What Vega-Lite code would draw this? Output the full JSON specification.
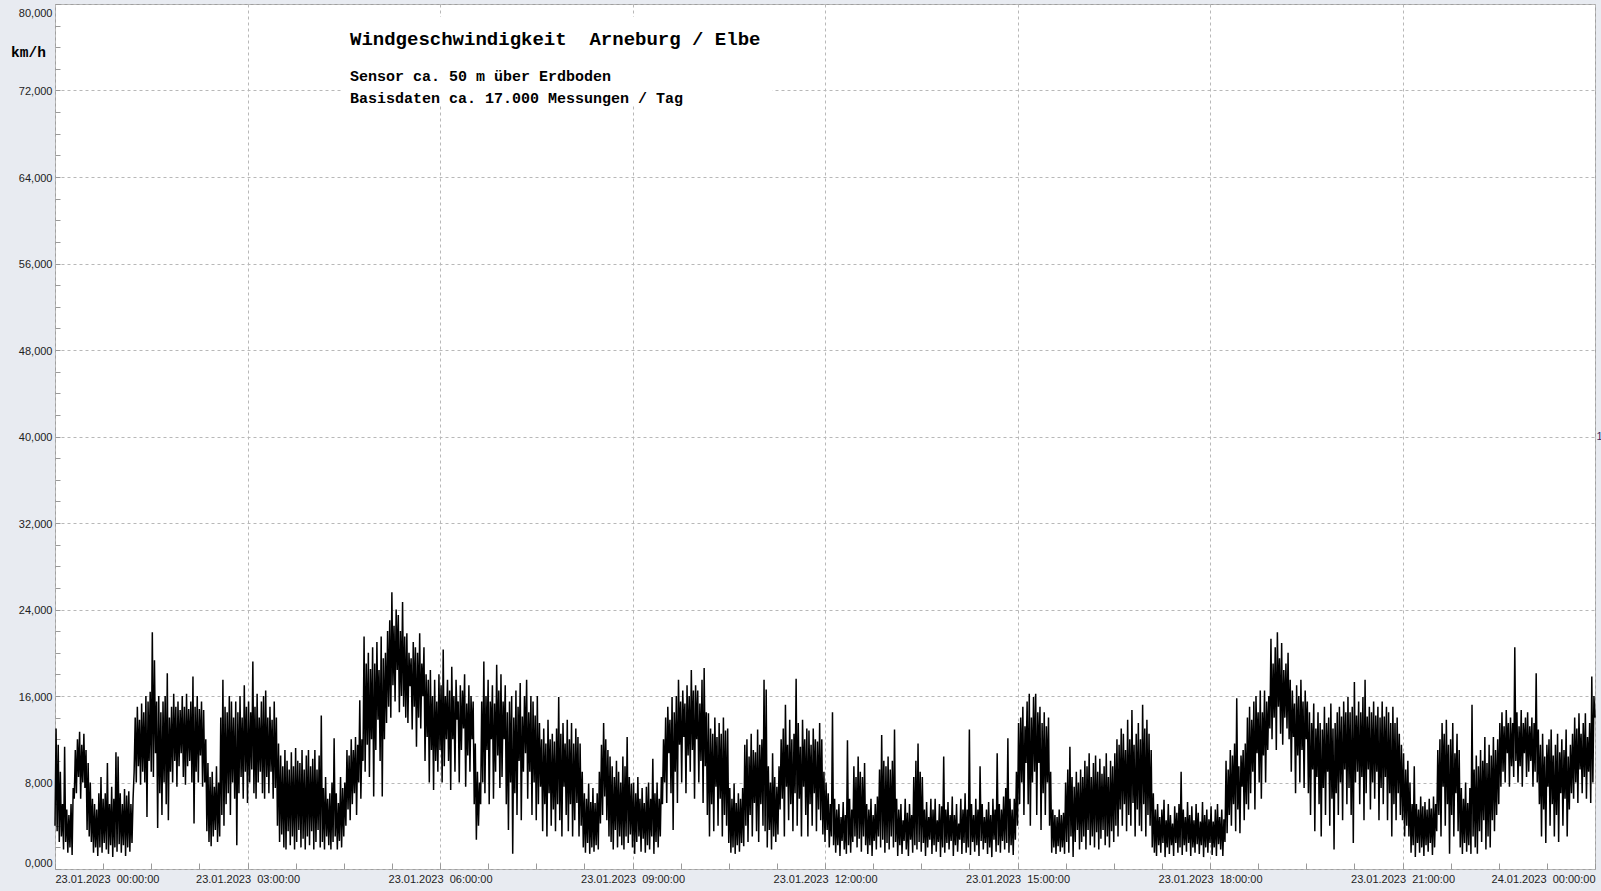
{
"$schema": "https://vega.github.io/schema/vega-lite/v6.json",
"width": 1540,
"height": 865,
"autosize": "none",
"padding": {"left": 55, "top": 4, "right": 6, "bottom": 22},
"background": "#e8ebf1",
"config": {"view": {"stroke": "#a0a0a0", "fill": "white"}},
"title": {
  "text": "Windgeschwindigkeit\u00a0 Arneburg / Elbe",
  "subtitle": ["Sensor ca. 50 m über Erdboden", "Basisdaten ca. 17.000 Messungen / Tag"],
  "anchor": "start", "frame": "group", "orient": "top", "offset": 0,
  "font": "Liberation Mono", "fontSize": 19, "fontWeight": "bold", "color": "#000",
  "subtitleFont": "Liberation Mono", "subtitleFontSize": 15, "subtitleFontWeight": "bold", "subtitleColor": "#000",
  "subtitlePadding": 19.5, "subtitleLineHeight": 22,
  "dx": 295, "dy": 102
},
"datasets": {
"wind": [
{"m":0,"v":4},{"m":1,"v":13},{"m":2,"v":3.5},{"m":3,"v":11.5},{"m":4,"v":2.5},{"m":5,"v":9},{"m":6,"v":3},{"m":7,"v":6},{"m":8,"v":1.8},{"m":9,"v":11.3},
{"m":10,"v":2.5},{"m":11,"v":5.5},{"m":12,"v":1.5},{"m":13,"v":5},{"m":14,"v":2},{"m":15,"v":6},{"m":16,"v":1.3},{"m":17,"v":7.5},{"m":18,"v":6.5},{"m":19,"v":11},
{"m":20,"v":7},{"m":21,"v":12},{"m":22,"v":8.5},{"m":23,"v":12.7},{"m":24,"v":6.5},{"m":25,"v":11.5},{"m":26,"v":8},{"m":27,"v":12.5},{"m":28,"v":7.5},{"m":29,"v":11},
{"m":30,"v":3.6},{"m":31,"v":9.8},{"m":32,"v":3},{"m":33,"v":8},{"m":34,"v":2.5},{"m":35,"v":6.5},{"m":36,"v":1.5},{"m":37,"v":6},{"m":38,"v":2},{"m":39,"v":5.5},
{"m":40,"v":1.2},{"m":41,"v":7},{"m":42,"v":2},{"m":43,"v":8.5},{"m":44,"v":1.5},{"m":45,"v":6.5},{"m":46,"v":2.4},{"m":47,"v":7},{"m":48,"v":1.8},{"m":49,"v":9.8},
{"m":50,"v":1.4},{"m":51,"v":6},{"m":52,"v":2.2},{"m":53,"v":7.6},{"m":54,"v":1.1},{"m":55,"v":6.5},{"m":56,"v":2},{"m":57,"v":10.8},{"m":58,"v":1.6},{"m":59,"v":10.4},
{"m":60,"v":2.3},{"m":61,"v":7},{"m":62,"v":1.5},{"m":63,"v":6},{"m":64,"v":2.2},{"m":65,"v":7.4},{"m":66,"v":1.2},{"m":67,"v":6.8},{"m":68,"v":2},{"m":69,"v":7.2},
{"m":70,"v":1.6},{"m":71,"v":6},{"m":72,"v":2.4},{"m":73,"v":6.5},{"m":74,"v":9},{"m":75,"v":14},{"m":76,"v":8},{"m":77,"v":15},{"m":78,"v":9.5},{"m":79,"v":13.8},
{"m":80,"v":7.8},{"m":81,"v":15.3},{"m":82,"v":9},{"m":83,"v":14.5},{"m":84,"v":8},{"m":85,"v":16},{"m":86,"v":4.8},{"m":87,"v":15.5},{"m":88,"v":10},{"m":89,"v":16.4},
{"m":90,"v":9},{"m":91,"v":21.9},{"m":92,"v":8.5},{"m":93,"v":19.3},{"m":94,"v":10.7},{"m":95,"v":15.5},{"m":96,"v":3.8},{"m":97,"v":16},{"m":98,"v":7},{"m":99,"v":14.5},
{"m":100,"v":5},{"m":101,"v":15.5},{"m":102,"v":8},{"m":103,"v":16},{"m":104,"v":6},{"m":105,"v":18.1},{"m":106,"v":4.5},{"m":107,"v":14},{"m":108,"v":9},{"m":109,"v":15},
{"m":110,"v":8},{"m":111,"v":16.2},{"m":112,"v":10},{"m":113,"v":15},{"m":114,"v":7.6},{"m":115,"v":15.5},{"m":116,"v":9.5},{"m":117,"v":14.7},{"m":118,"v":10.7},{"m":119,"v":16},
{"m":120,"v":8.5},{"m":121,"v":15},{"m":122,"v":7.8},{"m":123,"v":16.2},{"m":124,"v":9.5},{"m":125,"v":14.8},{"m":126,"v":10},{"m":127,"v":15.5},{"m":128,"v":8},{"m":129,"v":17.8},
{"m":130,"v":4.2},{"m":131,"v":15},{"m":132,"v":9},{"m":133,"v":16},{"m":134,"v":8},{"m":135,"v":14.8},{"m":136,"v":10.5},{"m":137,"v":15.5},{"m":138,"v":7.6},{"m":139,"v":14.7},
{"m":140,"v":8},{"m":141,"v":12},{"m":142,"v":3.5},{"m":143,"v":9.8},{"m":144,"v":2.5},{"m":145,"v":8.5},{"m":146,"v":2.1},{"m":147,"v":9},{"m":148,"v":3},{"m":149,"v":7.6},
{"m":150,"v":3.6},{"m":151,"v":9.5},{"m":152,"v":2.5},{"m":153,"v":8},{"m":154,"v":3},{"m":155,"v":14},{"m":156,"v":5},{"m":157,"v":17.5},{"m":158,"v":4},{"m":159,"v":15},
{"m":160,"v":6},{"m":161,"v":14.5},{"m":162,"v":7},{"m":163,"v":16},{"m":164,"v":5},{"m":165,"v":15.5},{"m":166,"v":8},{"m":167,"v":14},{"m":168,"v":6.5},{"m":169,"v":15.5},
{"m":170,"v":2.2},{"m":171,"v":14.5},{"m":172,"v":7},{"m":173,"v":16},{"m":174,"v":8.5},{"m":175,"v":14},{"m":176,"v":6.5},{"m":177,"v":17},{"m":178,"v":9},{"m":179,"v":15},
{"m":180,"v":6.1},{"m":181,"v":15.5},{"m":182,"v":8},{"m":183,"v":14.5},{"m":184,"v":9.2},{"m":185,"v":19.2},{"m":186,"v":7},{"m":187,"v":15},{"m":188,"v":6.5},{"m":189,"v":16.2},
{"m":190,"v":8},{"m":191,"v":14},{"m":192,"v":9},{"m":193,"v":15.5},{"m":194,"v":7},{"m":195,"v":16},{"m":196,"v":6.5},{"m":197,"v":16.5},{"m":198,"v":8.5},{"m":199,"v":14},
{"m":200,"v":7},{"m":201,"v":15},{"m":202,"v":9},{"m":203,"v":13.8},{"m":204,"v":6.5},{"m":205,"v":15.5},{"m":206,"v":7.5},{"m":207,"v":14},{"m":208,"v":4},{"m":209,"v":11.6},
{"m":210,"v":2.5},{"m":211,"v":10.5},{"m":212,"v":3.2},{"m":213,"v":9.5},{"m":214,"v":2},{"m":215,"v":11},{"m":216,"v":1.8},{"m":217,"v":10},{"m":218,"v":3.5},{"m":219,"v":9.2},
{"m":220,"v":2.2},{"m":221,"v":10.8},{"m":222,"v":3},{"m":223,"v":9.5},{"m":224,"v":1.8},{"m":225,"v":11.2},{"m":226,"v":2.5},{"m":227,"v":10},{"m":228,"v":3.6},{"m":229,"v":9.8},
{"m":230,"v":2},{"m":231,"v":11},{"m":232,"v":2.8},{"m":233,"v":9.2},{"m":234,"v":1.8},{"m":235,"v":10.5},{"m":236,"v":3},{"m":237,"v":11},{"m":238,"v":2.2},{"m":239,"v":9.5},
{"m":240,"v":3.5},{"m":241,"v":10.2},{"m":242,"v":1.8},{"m":243,"v":11},{"m":244,"v":2.5},{"m":245,"v":9.2},{"m":246,"v":3.6},{"m":247,"v":10.5},{"m":248,"v":2},{"m":249,"v":14.2},
{"m":250,"v":2.5},{"m":251,"v":7.5},{"m":252,"v":1.8},{"m":253,"v":8.5},{"m":254,"v":3},{"m":255,"v":6.5},{"m":256,"v":2.2},{"m":257,"v":7},{"m":258,"v":1.8},{"m":259,"v":8},
{"m":260,"v":2.5},{"m":261,"v":12.1},{"m":262,"v":3},{"m":263,"v":7},{"m":264,"v":1.8},{"m":265,"v":6.1},{"m":266,"v":2.6},{"m":267,"v":8.5},{"m":268,"v":2},{"m":269,"v":7.5},
{"m":270,"v":3},{"m":271,"v":8},{"m":272,"v":4},{"m":273,"v":11},{"m":274,"v":5.5},{"m":275,"v":10.5},{"m":276,"v":4.5},{"m":277,"v":12},{"m":278,"v":6},{"m":279,"v":11},
{"m":280,"v":7},{"m":281,"v":12.2},{"m":282,"v":5},{"m":283,"v":11.5},{"m":284,"v":8},{"m":285,"v":15.6},{"m":286,"v":6.5},{"m":287,"v":12},{"m":288,"v":10},{"m":289,"v":21.5},
{"m":290,"v":9},{"m":291,"v":19},{"m":292,"v":11.5},{"m":293,"v":20},{"m":294,"v":8.5},{"m":295,"v":18.5},{"m":296,"v":12},{"m":297,"v":20.5},{"m":298,"v":6.7},{"m":299,"v":19},
{"m":300,"v":11},{"m":301,"v":21},{"m":302,"v":13.8},{"m":303,"v":18.4},{"m":304,"v":10},{"m":305,"v":21.5},{"m":306,"v":6.7},{"m":307,"v":19.5},{"m":308,"v":12},{"m":309,"v":20},
{"m":310,"v":13.5},{"m":311,"v":22},{"m":312,"v":15},{"m":313,"v":23},{"m":314,"v":14},{"m":315,"v":25.6},{"m":316,"v":17},{"m":317,"v":22.5},{"m":318,"v":15.5},{"m":319,"v":24},
{"m":320,"v":18.4},{"m":321,"v":23.5},{"m":322,"v":14.5},{"m":323,"v":22},{"m":324,"v":16},{"m":325,"v":24.7},{"m":326,"v":15},{"m":327,"v":21.5},{"m":328,"v":14},{"m":329,"v":21.8},
{"m":330,"v":13.5},{"m":331,"v":20},{"m":332,"v":16.9},{"m":333,"v":19.5},{"m":334,"v":12.9},{"m":335,"v":21},{"m":336,"v":15},{"m":337,"v":20.5},{"m":338,"v":11.3},{"m":339,"v":20},
{"m":340,"v":14},{"m":341,"v":21.8},{"m":342,"v":13},{"m":343,"v":19},{"m":344,"v":16},{"m":345,"v":20.5},{"m":346,"v":10},{"m":347,"v":18},{"m":348,"v":12.2},{"m":349,"v":17.5},
{"m":350,"v":8},{"m":351,"v":18.4},{"m":352,"v":11},{"m":353,"v":16},{"m":354,"v":7.3},{"m":355,"v":17.5},{"m":356,"v":10},{"m":357,"v":15.5},{"m":358,"v":9},{"m":359,"v":18},
{"m":360,"v":11},{"m":361,"v":17},{"m":362,"v":8},{"m":363,"v":20.3},{"m":364,"v":9.5},{"m":365,"v":16},{"m":366,"v":12},{"m":367,"v":17.5},{"m":368,"v":10},{"m":369,"v":16.5},
{"m":370,"v":7.3},{"m":371,"v":18.7},{"m":372,"v":12},{"m":373,"v":16},{"m":374,"v":9},{"m":375,"v":17.5},{"m":376,"v":13.8},{"m":377,"v":15.5},{"m":378,"v":8},{"m":379,"v":17},
{"m":380,"v":11},{"m":381,"v":16.5},{"m":382,"v":13},{"m":383,"v":18},{"m":384,"v":7.6},{"m":385,"v":15.3},{"m":386,"v":10.5},{"m":387,"v":17},{"m":388,"v":9},{"m":389,"v":16},
{"m":390,"v":12},{"m":391,"v":15.5},{"m":392,"v":6},{"m":393,"v":11.6},{"m":394,"v":2.7},{"m":395,"v":9},{"m":396,"v":4},{"m":397,"v":8},{"m":398,"v":6},{"m":399,"v":15.5},
{"m":400,"v":8},{"m":401,"v":19.2},{"m":402,"v":7},{"m":403,"v":16},{"m":404,"v":11},{"m":405,"v":17.5},{"m":406,"v":6},{"m":407,"v":15.5},{"m":408,"v":12},{"m":409,"v":17},
{"m":410,"v":6.5},{"m":411,"v":15.3},{"m":412,"v":9},{"m":413,"v":18.9},{"m":414,"v":10.5},{"m":415,"v":16.5},{"m":416,"v":7.5},{"m":417,"v":18},{"m":418,"v":8.5},{"m":419,"v":15.5},
{"m":420,"v":12},{"m":421,"v":17},{"m":422,"v":6},{"m":423,"v":14.5},{"m":424,"v":3.6},{"m":425,"v":15.5},{"m":426,"v":8},{"m":427,"v":16},{"m":428,"v":1.4},{"m":429,"v":14},
{"m":430,"v":7},{"m":431,"v":16.5},{"m":432,"v":5},{"m":433,"v":15},{"m":434,"v":10},{"m":435,"v":17.2},{"m":436,"v":4.5},{"m":437,"v":14.1},{"m":438,"v":9},{"m":439,"v":16},
{"m":440,"v":10.7},{"m":441,"v":17.5},{"m":442,"v":6.5},{"m":443,"v":14.5},{"m":444,"v":9},{"m":445,"v":16},{"m":446,"v":5},{"m":447,"v":15.5},{"m":448,"v":8},{"m":449,"v":14.2},
{"m":450,"v":4.5},{"m":451,"v":16},{"m":452,"v":6},{"m":453,"v":13.5},{"m":454,"v":7.6},{"m":455,"v":12},{"m":456,"v":3.5},{"m":457,"v":13},{"m":458,"v":6},{"m":459,"v":11.6},
{"m":460,"v":3},{"m":461,"v":13.8},{"m":462,"v":7},{"m":463,"v":12},{"m":464,"v":4},{"m":465,"v":12.5},{"m":466,"v":5.5},{"m":467,"v":11.8},{"m":468,"v":3.5},{"m":469,"v":13},
{"m":470,"v":6},{"m":471,"v":15.9},{"m":472,"v":4.5},{"m":473,"v":12.5},{"m":474,"v":3},{"m":475,"v":13.5},{"m":476,"v":7.6},{"m":477,"v":11.6},{"m":478,"v":5},{"m":479,"v":13.8},
{"m":480,"v":3.5},{"m":481,"v":12},{"m":482,"v":6},{"m":483,"v":13.5},{"m":484,"v":3},{"m":485,"v":11.6},{"m":486,"v":4.5},{"m":487,"v":13},{"m":488,"v":6.1},{"m":489,"v":12.2},
{"m":490,"v":3},{"m":491,"v":11.6},{"m":492,"v":4},{"m":493,"v":9},{"m":494,"v":2},{"m":495,"v":7},{"m":496,"v":1.5},{"m":497,"v":6.5},{"m":498,"v":2.4},{"m":499,"v":7.9},
{"m":500,"v":1.4},{"m":501,"v":6.2},{"m":502,"v":2},{"m":503,"v":7.5},{"m":504,"v":1.6},{"m":505,"v":6.1},{"m":506,"v":2.2},{"m":507,"v":7},{"m":508,"v":1.8},{"m":509,"v":9},
{"m":510,"v":4.2},{"m":511,"v":11.5},{"m":512,"v":5},{"m":513,"v":13.5},{"m":514,"v":6.7},{"m":515,"v":12},{"m":516,"v":4.5},{"m":517,"v":11},{"m":518,"v":3},{"m":519,"v":10.4},
{"m":520,"v":2.5},{"m":521,"v":9.5},{"m":522,"v":1.8},{"m":523,"v":8.5},{"m":524,"v":3.6},{"m":525,"v":10},{"m":526,"v":2},{"m":527,"v":9},{"m":528,"v":3},{"m":529,"v":8},
{"m":530,"v":2.2},{"m":531,"v":10.4},{"m":532,"v":1.8},{"m":533,"v":9.5},{"m":534,"v":3},{"m":535,"v":12.2},{"m":536,"v":2.4},{"m":537,"v":8.5},{"m":538,"v":3.2},{"m":539,"v":7.9},
{"m":540,"v":2},{"m":541,"v":8},{"m":542,"v":1.4},{"m":543,"v":7},{"m":544,"v":2.5},{"m":545,"v":8.5},{"m":546,"v":3},{"m":547,"v":6.5},{"m":548,"v":1.6},{"m":549,"v":7.5},
{"m":550,"v":2.8},{"m":551,"v":6.1},{"m":552,"v":1.5},{"m":553,"v":7.6},{"m":554,"v":2.2},{"m":555,"v":8},{"m":556,"v":1.8},{"m":557,"v":6.5},{"m":558,"v":3},{"m":559,"v":10.2},
{"m":560,"v":1.4},{"m":561,"v":7},{"m":562,"v":2.5},{"m":563,"v":8},{"m":564,"v":2},{"m":565,"v":6.5},{"m":566,"v":3},{"m":567,"v":8.5},{"m":568,"v":6},{"m":569,"v":12},
{"m":570,"v":8},{"m":571,"v":14},{"m":572,"v":6.1},{"m":573,"v":15},{"m":574,"v":10.7},{"m":575,"v":13.8},{"m":576,"v":7},{"m":577,"v":15.9},{"m":578,"v":3.6},{"m":579,"v":14.5},
{"m":580,"v":9},{"m":581,"v":16},{"m":582,"v":6.1},{"m":583,"v":17.5},{"m":584,"v":11.5},{"m":585,"v":15.5},{"m":586,"v":8},{"m":587,"v":16.5},{"m":588,"v":12.2},{"m":589,"v":15.3},
{"m":590,"v":7},{"m":591,"v":17},{"m":592,"v":10.5},{"m":593,"v":16},{"m":594,"v":9},{"m":595,"v":18.4},{"m":596,"v":11},{"m":597,"v":16.5},{"m":598,"v":6.5},{"m":599,"v":17},
{"m":600,"v":12},{"m":601,"v":16.5},{"m":602,"v":8},{"m":603,"v":15.3},{"m":604,"v":10},{"m":605,"v":17.5},{"m":606,"v":6.1},{"m":607,"v":18.6},{"m":608,"v":9.5},{"m":609,"v":14.5},
{"m":610,"v":5},{"m":611,"v":14.4},{"m":612,"v":3},{"m":613,"v":13},{"m":614,"v":6},{"m":615,"v":12.5},{"m":616,"v":3.5},{"m":617,"v":14},{"m":618,"v":7.6},{"m":619,"v":12.2},
{"m":620,"v":4},{"m":621,"v":13.5},{"m":622,"v":6.5},{"m":623,"v":12.5},{"m":624,"v":3},{"m":625,"v":14},{"m":626,"v":5},{"m":627,"v":12.8},{"m":628,"v":4},{"m":629,"v":13},
{"m":630,"v":2.4},{"m":631,"v":7.5},{"m":632,"v":1.5},{"m":633,"v":6.5},{"m":634,"v":2},{"m":635,"v":7.9},{"m":636,"v":1.4},{"m":637,"v":6.1},{"m":638,"v":2.2},{"m":639,"v":7},
{"m":640,"v":1.6},{"m":641,"v":6.5},{"m":642,"v":2.4},{"m":643,"v":7.5},{"m":644,"v":2.1},{"m":645,"v":11.5},{"m":646,"v":4},{"m":647,"v":12},{"m":648,"v":2.5},{"m":649,"v":10.4},
{"m":650,"v":5},{"m":651,"v":12.5},{"m":652,"v":3},{"m":653,"v":11},{"m":654,"v":6.1},{"m":655,"v":10.8},{"m":656,"v":3.5},{"m":657,"v":12.9},{"m":658,"v":2.5},{"m":659,"v":11.5},
{"m":660,"v":6},{"m":661,"v":12},{"m":662,"v":4},{"m":663,"v":17.5},{"m":664,"v":3.5},{"m":665,"v":16.6},{"m":666,"v":2},{"m":667,"v":9.5},{"m":668,"v":3.6},{"m":669,"v":8},
{"m":670,"v":1.8},{"m":671,"v":10.7},{"m":672,"v":3},{"m":673,"v":8.5},{"m":674,"v":2.5},{"m":675,"v":7.6},{"m":676,"v":3.2},{"m":677,"v":9.5},{"m":678,"v":5.5},{"m":679,"v":12},
{"m":680,"v":6.5},{"m":681,"v":13},{"m":682,"v":3},{"m":683,"v":15.2},{"m":684,"v":7.6},{"m":685,"v":11.5},{"m":686,"v":4.5},{"m":687,"v":13.8},{"m":688,"v":6},{"m":689,"v":12},
{"m":690,"v":3.5},{"m":691,"v":12.5},{"m":692,"v":7},{"m":693,"v":17.6},{"m":694,"v":4},{"m":695,"v":13.5},{"m":696,"v":6.5},{"m":697,"v":11.3},{"m":698,"v":3},{"m":699,"v":13.8},
{"m":700,"v":7.6},{"m":701,"v":12},{"m":702,"v":5},{"m":703,"v":13},{"m":704,"v":3},{"m":705,"v":12.8},{"m":706,"v":6},{"m":707,"v":11.5},{"m":708,"v":4},{"m":709,"v":13},
{"m":710,"v":7},{"m":711,"v":12},{"m":712,"v":3.5},{"m":713,"v":11.8},{"m":714,"v":5.5},{"m":715,"v":13.5},{"m":716,"v":4.5},{"m":717,"v":12},{"m":718,"v":3.2},{"m":719,"v":9},
{"m":720,"v":2.5},{"m":721,"v":8},{"m":722,"v":3.6},{"m":723,"v":7},{"m":724,"v":2},{"m":725,"v":6},{"m":726,"v":3},{"m":727,"v":14.5},{"m":728,"v":2.2},{"m":729,"v":6.5},
{"m":730,"v":1.5},{"m":731,"v":5.5},{"m":732,"v":2.2},{"m":733,"v":6},{"m":734,"v":1.2},{"m":735,"v":4.8},{"m":736,"v":2.6},{"m":737,"v":6.2},{"m":738,"v":1.8},{"m":739,"v":5},
{"m":740,"v":1.4},{"m":741,"v":11.9},{"m":742,"v":2.2},{"m":743,"v":6.5},{"m":744,"v":1.5},{"m":745,"v":5.5},{"m":746,"v":2.5},{"m":747,"v":9.5},{"m":748,"v":3},{"m":749,"v":8.5},
{"m":750,"v":2},{"m":751,"v":10.4},{"m":752,"v":2.8},{"m":753,"v":9},{"m":754,"v":1.6},{"m":755,"v":8.5},{"m":756,"v":3},{"m":757,"v":9.8},{"m":758,"v":2.2},{"m":759,"v":6},
{"m":760,"v":1.4},{"m":761,"v":5.5},{"m":762,"v":2.2},{"m":763,"v":6.5},{"m":764,"v":1.2},{"m":765,"v":5},{"m":766,"v":2.6},{"m":767,"v":6},{"m":768,"v":1.8},{"m":769,"v":6.7},
{"m":770,"v":3},{"m":771,"v":9.2},{"m":772,"v":2},{"m":773,"v":12.4},{"m":774,"v":2.7},{"m":775,"v":10},{"m":776,"v":1.5},{"m":777,"v":9.5},{"m":778,"v":2.4},{"m":779,"v":10.4},
{"m":780,"v":1.8},{"m":781,"v":9.2},{"m":782,"v":3},{"m":783,"v":10},{"m":784,"v":2},{"m":785,"v":12.9},{"m":786,"v":2.5},{"m":787,"v":6.5},{"m":788,"v":1.2},{"m":789,"v":5.5},
{"m":790,"v":2.2},{"m":791,"v":6},{"m":792,"v":1.4},{"m":793,"v":4.5},{"m":794,"v":2.6},{"m":795,"v":6.5},{"m":796,"v":1.8},{"m":797,"v":5.2},{"m":798,"v":1.2},{"m":799,"v":6},
{"m":800,"v":2.7},{"m":801,"v":5},{"m":802,"v":1.5},{"m":803,"v":8.5},{"m":804,"v":2.2},{"m":805,"v":10},{"m":806,"v":1.8},{"m":807,"v":11.6},{"m":808,"v":2.5},{"m":809,"v":9},
{"m":810,"v":1.6},{"m":811,"v":8.5},{"m":812,"v":2.4},{"m":813,"v":5.5},{"m":814,"v":1.2},{"m":815,"v":6.2},{"m":816,"v":2},{"m":817,"v":4.8},{"m":818,"v":2.7},{"m":819,"v":6.5},
{"m":820,"v":1.4},{"m":821,"v":5.5},{"m":822,"v":2.2},{"m":823,"v":6.5},{"m":824,"v":1.6},{"m":825,"v":4.5},{"m":826,"v":2.5},{"m":827,"v":6},{"m":828,"v":1.1},{"m":829,"v":5.8},
{"m":830,"v":2},{"m":831,"v":10.4},{"m":832,"v":1.5},{"m":833,"v":5.5},{"m":834,"v":2.4},{"m":835,"v":6.2},{"m":836,"v":1.8},{"m":837,"v":5},{"m":838,"v":2.6},{"m":839,"v":6.7},
{"m":840,"v":1.2},{"m":841,"v":5},{"m":842,"v":2.2},{"m":843,"v":6},{"m":844,"v":1.6},{"m":845,"v":4.2},{"m":846,"v":2.7},{"m":847,"v":6.5},{"m":848,"v":1.4},{"m":849,"v":5.5},
{"m":850,"v":2.4},{"m":851,"v":7},{"m":852,"v":1.5},{"m":853,"v":5.5},{"m":854,"v":2},{"m":855,"v":12.9},{"m":856,"v":1.3},{"m":857,"v":6},{"m":858,"v":2.5},{"m":859,"v":5},
{"m":860,"v":1.6},{"m":861,"v":6.5},{"m":862,"v":2.2},{"m":863,"v":5.5},{"m":864,"v":1.2},{"m":865,"v":9.5},{"m":866,"v":2.6},{"m":867,"v":6},{"m":868,"v":1.8},{"m":869,"v":4.8},
{"m":870,"v":2.4},{"m":871,"v":5.5},{"m":872,"v":1.4},{"m":873,"v":6.2},{"m":874,"v":2},{"m":875,"v":5},{"m":876,"v":1.1},{"m":877,"v":6.5},{"m":878,"v":2.7},{"m":879,"v":5.5},
{"m":880,"v":1.6},{"m":881,"v":10.7},{"m":882,"v":2.2},{"m":883,"v":6},{"m":884,"v":1.5},{"m":885,"v":5.5},{"m":886,"v":2.6},{"m":887,"v":6.7},{"m":888,"v":1.8},{"m":889,"v":7.5},
{"m":890,"v":2.4},{"m":891,"v":12.1},{"m":892,"v":1.5},{"m":893,"v":6.5},{"m":894,"v":2.2},{"m":895,"v":5.5},{"m":896,"v":1.3},{"m":897,"v":6.5},{"m":898,"v":2.7},{"m":899,"v":9},
{"m":900,"v":4},{"m":901,"v":13.5},{"m":902,"v":6},{"m":903,"v":14},{"m":904,"v":8},{"m":905,"v":15},{"m":906,"v":5},{"m":907,"v":13.2},{"m":908,"v":9.8},{"m":909,"v":15.5},
{"m":910,"v":6},{"m":911,"v":16.2},{"m":912,"v":4},{"m":913,"v":14},{"m":914,"v":8},{"m":915,"v":15.9},{"m":916,"v":9},{"m":917,"v":16.2},{"m":918,"v":5},{"m":919,"v":14.5},
{"m":920,"v":9.8},{"m":921,"v":15},{"m":922,"v":3.6},{"m":923,"v":13.5},{"m":924,"v":7},{"m":925,"v":14.5},{"m":926,"v":5},{"m":927,"v":13.2},{"m":928,"v":8},{"m":929,"v":14},
{"m":930,"v":4},{"m":931,"v":9},{"m":932,"v":1.5},{"m":933,"v":5.5},{"m":934,"v":2},{"m":935,"v":5},{"m":936,"v":1.4},{"m":937,"v":4.8},{"m":938,"v":2.1},{"m":939,"v":5.5},
{"m":940,"v":1.6},{"m":941,"v":5},{"m":942,"v":2},{"m":943,"v":5.2},{"m":944,"v":1.4},{"m":945,"v":8},{"m":946,"v":2.5},{"m":947,"v":9.2},{"m":948,"v":1.5},{"m":949,"v":11.3},
{"m":950,"v":3},{"m":951,"v":8.5},{"m":952,"v":1.1},{"m":953,"v":7.6},{"m":954,"v":2.5},{"m":955,"v":9},{"m":956,"v":3.6},{"m":957,"v":8},{"m":958,"v":1.8},{"m":959,"v":9.2},
{"m":960,"v":2.5},{"m":961,"v":8.5},{"m":962,"v":3},{"m":963,"v":10},{"m":964,"v":1.8},{"m":965,"v":9.5},{"m":966,"v":3.6},{"m":967,"v":10.7},{"m":968,"v":2.2},{"m":969,"v":8.5},
{"m":970,"v":3},{"m":971,"v":9.8},{"m":972,"v":2},{"m":973,"v":10.5},{"m":974,"v":3.4},{"m":975,"v":9},{"m":976,"v":1.8},{"m":977,"v":10.2},{"m":978,"v":2.8},{"m":979,"v":8.8},
{"m":980,"v":3.6},{"m":981,"v":9.5},{"m":982,"v":2.2},{"m":983,"v":10.7},{"m":984,"v":3},{"m":985,"v":8.5},{"m":986,"v":2},{"m":987,"v":10},{"m":988,"v":3.5},{"m":989,"v":9.5},
{"m":990,"v":2.5},{"m":991,"v":10.7},{"m":992,"v":4},{"m":993,"v":12},{"m":994,"v":3},{"m":995,"v":11.5},{"m":996,"v":5.5},{"m":997,"v":13},{"m":998,"v":4},{"m":999,"v":12.5},
{"m":1000,"v":6},{"m":1001,"v":11},{"m":1002,"v":3.5},{"m":1003,"v":13.8},{"m":1004,"v":5},{"m":1005,"v":12},{"m":1006,"v":4},{"m":1007,"v":14.7},{"m":1008,"v":6.1},{"m":1009,"v":11.5},
{"m":1010,"v":3},{"m":1011,"v":12.5},{"m":1012,"v":5.5},{"m":1013,"v":13.5},{"m":1014,"v":4},{"m":1015,"v":12},{"m":1016,"v":3.5},{"m":1017,"v":15.2},{"m":1018,"v":6},{"m":1019,"v":13},
{"m":1020,"v":3},{"m":1021,"v":13.8},{"m":1022,"v":5},{"m":1023,"v":12.5},{"m":1024,"v":4},{"m":1025,"v":11},{"m":1026,"v":2},{"m":1027,"v":7},{"m":1028,"v":1.5},{"m":1029,"v":5.5},
{"m":1030,"v":1.2},{"m":1031,"v":6},{"m":1032,"v":2.2},{"m":1033,"v":4.8},{"m":1034,"v":1.5},{"m":1035,"v":5.5},{"m":1036,"v":2.4},{"m":1037,"v":6.4},{"m":1038,"v":1.1},{"m":1039,"v":4.5},
{"m":1040,"v":2},{"m":1041,"v":6},{"m":1042,"v":1.4},{"m":1043,"v":5},{"m":1044,"v":2.2},{"m":1045,"v":4.2},{"m":1046,"v":1.2},{"m":1047,"v":5.8},{"m":1048,"v":2.4},{"m":1049,"v":5.2},
{"m":1050,"v":1.5},{"m":1051,"v":6},{"m":1052,"v":2},{"m":1053,"v":9},{"m":1054,"v":1.3},{"m":1055,"v":5.5},{"m":1056,"v":2.2},{"m":1057,"v":4.8},{"m":1058,"v":1.6},{"m":1059,"v":6.2},
{"m":1060,"v":2.4},{"m":1061,"v":5},{"m":1062,"v":1.2},{"m":1063,"v":5.8},{"m":1064,"v":2},{"m":1065,"v":4.5},{"m":1066,"v":1.5},{"m":1067,"v":6},{"m":1068,"v":2.3},{"m":1069,"v":5.2},
{"m":1070,"v":1.4},{"m":1071,"v":4.4},{"m":1072,"v":2.2},{"m":1073,"v":6.2},{"m":1074,"v":1.1},{"m":1075,"v":5},{"m":1076,"v":2},{"m":1077,"v":5.5},{"m":1078,"v":1.5},{"m":1079,"v":4.6},
{"m":1080,"v":2.4},{"m":1081,"v":5.8},{"m":1082,"v":1.3},{"m":1083,"v":4.4},{"m":1084,"v":2},{"m":1085,"v":5.5},{"m":1086,"v":1.2},{"m":1087,"v":6},{"m":1088,"v":2.3},{"m":1089,"v":4.8},
{"m":1090,"v":1.8},{"m":1091,"v":5.5},{"m":1092,"v":1.2},{"m":1093,"v":4.6},{"m":1094,"v":2.5},{"m":1095,"v":10},{"m":1096,"v":3.3},{"m":1097,"v":9.2},{"m":1098,"v":5},{"m":1099,"v":11},
{"m":1100,"v":4},{"m":1101,"v":10.5},{"m":1102,"v":6},{"m":1103,"v":11.6},{"m":1104,"v":3.5},{"m":1105,"v":15.8},{"m":1106,"v":5.5},{"m":1107,"v":9.5},{"m":1108,"v":3.3},{"m":1109,"v":10.5},
{"m":1110,"v":7.6},{"m":1111,"v":11},{"m":1112,"v":4.5},{"m":1113,"v":11.6},{"m":1114,"v":6},{"m":1115,"v":14},{"m":1116,"v":5.5},{"m":1117,"v":15},{"m":1118,"v":7},{"m":1119,"v":13.8},
{"m":1120,"v":9},{"m":1121,"v":15.5},{"m":1122,"v":5.5},{"m":1123,"v":16},{"m":1124,"v":10.7},{"m":1125,"v":14.5},{"m":1126,"v":8},{"m":1127,"v":16.5},{"m":1128,"v":6.5},{"m":1129,"v":14.5},
{"m":1130,"v":10.5},{"m":1131,"v":16.5},{"m":1132,"v":8},{"m":1133,"v":15.5},{"m":1134,"v":11},{"m":1135,"v":16},{"m":1136,"v":13},{"m":1137,"v":21.3},{"m":1138,"v":12},{"m":1139,"v":19},
{"m":1140,"v":14},{"m":1141,"v":20.5},{"m":1142,"v":11},{"m":1143,"v":21.9},{"m":1144,"v":15},{"m":1145,"v":19.5},{"m":1146,"v":12.5},{"m":1147,"v":20.9},{"m":1148,"v":11.5},{"m":1149,"v":18.4},
{"m":1150,"v":14},{"m":1151,"v":19},{"m":1152,"v":13},{"m":1153,"v":20},{"m":1154,"v":12},{"m":1155,"v":17.5},{"m":1156,"v":9},{"m":1157,"v":16.5},{"m":1158,"v":12.2},{"m":1159,"v":15.3},
{"m":1160,"v":7},{"m":1161,"v":17},{"m":1162,"v":10.5},{"m":1163,"v":16},{"m":1164,"v":8},{"m":1165,"v":17.5},{"m":1166,"v":11},{"m":1167,"v":15.5},{"m":1168,"v":7.5},{"m":1169,"v":16.5},
{"m":1170,"v":12},{"m":1171,"v":15.5},{"m":1172,"v":7},{"m":1173,"v":14.5},{"m":1174,"v":5},{"m":1175,"v":13.5},{"m":1176,"v":9.2},{"m":1177,"v":15.3},{"m":1178,"v":3.5},{"m":1179,"v":13},
{"m":1180,"v":8.5},{"m":1181,"v":14.5},{"m":1182,"v":6},{"m":1183,"v":13.5},{"m":1184,"v":3},{"m":1185,"v":12.9},{"m":1186,"v":7.5},{"m":1187,"v":15},{"m":1188,"v":5},{"m":1189,"v":13.5},
{"m":1190,"v":9},{"m":1191,"v":14},{"m":1192,"v":4},{"m":1193,"v":15.3},{"m":1194,"v":6.5},{"m":1195,"v":13},{"m":1196,"v":1.8},{"m":1197,"v":13.5},{"m":1198,"v":7},{"m":1199,"v":14.5},
{"m":1200,"v":5},{"m":1201,"v":15},{"m":1202,"v":8},{"m":1203,"v":14.1},{"m":1204,"v":4.5},{"m":1205,"v":15.5},{"m":1206,"v":9.2},{"m":1207,"v":14.5},{"m":1208,"v":6},{"m":1209,"v":15.9},
{"m":1210,"v":7.5},{"m":1211,"v":14.5},{"m":1212,"v":5},{"m":1213,"v":15},{"m":1214,"v":2.4},{"m":1215,"v":17.3},{"m":1216,"v":8},{"m":1217,"v":14.2},{"m":1218,"v":9},{"m":1219,"v":15.5},
{"m":1220,"v":6},{"m":1221,"v":14.5},{"m":1222,"v":8.5},{"m":1223,"v":15.9},{"m":1224,"v":4.5},{"m":1225,"v":17.5},{"m":1226,"v":7},{"m":1227,"v":14.1},{"m":1228,"v":9.2},{"m":1229,"v":15},
{"m":1230,"v":5.5},{"m":1231,"v":14.5},{"m":1232,"v":8},{"m":1233,"v":15.5},{"m":1234,"v":6.5},{"m":1235,"v":14.2},{"m":1236,"v":9},{"m":1237,"v":15},{"m":1238,"v":4.5},{"m":1239,"v":14},
{"m":1240,"v":7.5},{"m":1241,"v":15.5},{"m":1242,"v":6},{"m":1243,"v":14.1},{"m":1244,"v":8.5},{"m":1245,"v":15},{"m":1246,"v":4.5},{"m":1247,"v":14.5},{"m":1248,"v":7},{"m":1249,"v":13.5},
{"m":1250,"v":3},{"m":1251,"v":15},{"m":1252,"v":6},{"m":1253,"v":13.5},{"m":1254,"v":4.5},{"m":1255,"v":14},{"m":1256,"v":7},{"m":1257,"v":12.5},{"m":1258,"v":5},{"m":1259,"v":11.5},
{"m":1260,"v":4.5},{"m":1261,"v":10.7},{"m":1262,"v":3},{"m":1263,"v":9.2},{"m":1264,"v":4},{"m":1265,"v":10},{"m":1266,"v":3},{"m":1267,"v":8},{"m":1268,"v":1.5},{"m":1269,"v":6},
{"m":1270,"v":2.2},{"m":1271,"v":9.5},{"m":1272,"v":1.1},{"m":1273,"v":6},{"m":1274,"v":2.4},{"m":1275,"v":5.5},{"m":1276,"v":1.5},{"m":1277,"v":6.7},{"m":1278,"v":2},{"m":1279,"v":5.8},
{"m":1280,"v":1.2},{"m":1281,"v":6.2},{"m":1282,"v":2.2},{"m":1283,"v":5.5},{"m":1284,"v":1.6},{"m":1285,"v":6.5},{"m":1286,"v":2.4},{"m":1287,"v":5.6},{"m":1288,"v":1.3},{"m":1289,"v":6.7},
{"m":1290,"v":2},{"m":1291,"v":6},{"m":1292,"v":3.5},{"m":1293,"v":11},{"m":1294,"v":5},{"m":1295,"v":12},{"m":1296,"v":3},{"m":1297,"v":13.5},{"m":1298,"v":7.6},{"m":1299,"v":12.5},
{"m":1300,"v":4},{"m":1301,"v":13.8},{"m":1302,"v":6},{"m":1303,"v":11.5},{"m":1304,"v":1.4},{"m":1305,"v":12},{"m":1306,"v":5},{"m":1307,"v":13.5},{"m":1308,"v":3},{"m":1309,"v":10.7},
{"m":1310,"v":7},{"m":1311,"v":12.5},{"m":1312,"v":3.5},{"m":1313,"v":11},{"m":1314,"v":2},{"m":1315,"v":7.5},{"m":1316,"v":1.4},{"m":1317,"v":6.5},{"m":1318,"v":2.4},{"m":1319,"v":8},
{"m":1320,"v":1.6},{"m":1321,"v":6.1},{"m":1322,"v":2.2},{"m":1323,"v":7.5},{"m":1324,"v":1.4},{"m":1325,"v":15.2},{"m":1326,"v":3},{"m":1327,"v":9.2},{"m":1328,"v":2},{"m":1329,"v":10.5},
{"m":1330,"v":1.4},{"m":1331,"v":9.5},{"m":1332,"v":3.5},{"m":1333,"v":11},{"m":1334,"v":2.5},{"m":1335,"v":10},{"m":1336,"v":4.5},{"m":1337,"v":12.2},{"m":1338,"v":1.8},{"m":1339,"v":9.8},
{"m":1340,"v":3},{"m":1341,"v":11.5},{"m":1342,"v":2},{"m":1343,"v":10.5},{"m":1344,"v":4.5},{"m":1345,"v":12.2},{"m":1346,"v":3.5},{"m":1347,"v":11},{"m":1348,"v":5},{"m":1349,"v":12},
{"m":1350,"v":6},{"m":1351,"v":13.5},{"m":1352,"v":7.6},{"m":1353,"v":14.5},{"m":1354,"v":9},{"m":1355,"v":13.2},{"m":1356,"v":8},{"m":1357,"v":14.7},{"m":1358,"v":10.7},{"m":1359,"v":13.5},
{"m":1360,"v":7.6},{"m":1361,"v":14},{"m":1362,"v":9.5},{"m":1363,"v":13.5},{"m":1364,"v":8.5},{"m":1365,"v":20.5},{"m":1366,"v":10},{"m":1367,"v":14.5},{"m":1368,"v":8},{"m":1369,"v":13.2},
{"m":1370,"v":9.5},{"m":1371,"v":14.7},{"m":1372,"v":7.6},{"m":1373,"v":13.5},{"m":1374,"v":10.7},{"m":1375,"v":14},{"m":1376,"v":8.5},{"m":1377,"v":14.5},{"m":1378,"v":9},{"m":1379,"v":13.2},
{"m":1380,"v":10},{"m":1381,"v":14},{"m":1382,"v":7.6},{"m":1383,"v":13.5},{"m":1384,"v":9},{"m":1385,"v":18.1},{"m":1386,"v":8},{"m":1387,"v":12.9},{"m":1388,"v":6},{"m":1389,"v":11.5},
{"m":1390,"v":3},{"m":1391,"v":12.5},{"m":1392,"v":5.5},{"m":1393,"v":10.4},{"m":1394,"v":2.4},{"m":1395,"v":11.5},{"m":1396,"v":7.6},{"m":1397,"v":12},{"m":1398,"v":4},{"m":1399,"v":12.9},
{"m":1400,"v":6},{"m":1401,"v":10.5},{"m":1402,"v":3},{"m":1403,"v":11.5},{"m":1404,"v":5},{"m":1405,"v":12.5},{"m":1406,"v":2.5},{"m":1407,"v":10.8},{"m":1408,"v":7},{"m":1409,"v":12},
{"m":1410,"v":4},{"m":1411,"v":11},{"m":1412,"v":6.5},{"m":1413,"v":12.9},{"m":1414,"v":3},{"m":1415,"v":10.4},{"m":1416,"v":5.5},{"m":1417,"v":11.5},{"m":1418,"v":7},{"m":1419,"v":12.5},
{"m":1420,"v":6.5},{"m":1421,"v":14},{"m":1422,"v":8},{"m":1423,"v":13},{"m":1424,"v":6.1},{"m":1425,"v":14.4},{"m":1426,"v":9.2},{"m":1427,"v":12.5},{"m":1428,"v":7},{"m":1429,"v":13.5},
{"m":1430,"v":8.5},{"m":1431,"v":14.4},{"m":1432,"v":6.5},{"m":1433,"v":12.2},{"m":1434,"v":9},{"m":1435,"v":13.5},{"m":1436,"v":6.1},{"m":1437,"v":17.8},{"m":1438,"v":8},{"m":1439,"v":16},
{"m":1440,"v":14}
]
},
"resolve": {"axis": {"x": "independent", "y": "independent"}},
"layer": [
{
  "data": {"values": [{}]},
  "mark": {"type": "rect", "fill": "white"},
  "encoding": {
    "x": {"datum": 269, "type": "quantitative",
      "scale": {"domain": [0, 1440], "nice": false, "zero": false},
      "axis": {"orient": "bottom", "values": [0,45,90,135,180,225,270,315,360,405,450,495,540,585,630,675,720,765,810,855,900,945,990,1035,1080,1125,1170,1215,1260,1305,1350,1395,1440],
        "labels": false, "grid": false, "domain": false, "ticks": true, "tickSize": -6, "tickColor": "#9a9a9a", "tickWidth": 1, "title": null}},
    "x2": {"datum": 671},
    "y": {"datum": 70.7, "type": "quantitative",
      "scale": {"domain": [0, 80], "nice": false, "zero": false},
      "axis": {"orient": "right", "values": [40], "labelExpr": "'1'", "ticks": false, "grid": false, "domain": false,
        "labelPadding": 1, "labelFont": "Liberation Sans", "labelFontSize": 11, "labelColor": "#3a1f5d", "labelAlign": "left", "title": null}},
    "y2": {"datum": 78.8}
  }
},
{
  "data": {"name": "wind"},
  "mark": {"type": "line", "color": "#000", "strokeWidth": 1.5, "interpolate": "linear"},
  "encoding": {
    "x": {"field": "m", "type": "quantitative",
      "axis": {"orient": "bottom", "values": [0,180,360,540,720,900,1080,1260,1440],
        "labelExpr": "(datum.value < 1440 ? '23.01.2023' : '24.01.2023') + '\u00a0 ' + (datum.value % 1440 < 600 ? '0' : '') + floor((datum.value % 1440) / 60) + ':00:00'",
        "grid": true, "gridColor": "#b8b8b8", "gridDash": [3, 3], "gridWidth": 1,
        "ticks": false, "domain": false, "labelFlush": true, "labelOverlap": false, "labelBound": false,
        "labelPadding": 4, "labelFont": "Liberation Sans", "labelFontSize": 11, "labelColor": "#222", "title": null}},
    "y": {"field": "v", "type": "quantitative",
      "axis": {"orient": "left", "values": [0,8,16,24,32,40,48,56,64,72,80],
        "labelExpr": "replace(format(datum.value, '.3f'), '.', ',')",
        "grid": true, "gridColor": "#b8b8b8", "gridDash": [3, 3], "gridWidth": 1,
        "ticks": false, "domain": false, "labelFlush": true, "labelFlushOffset": -2, "labelOffset": 1, "labelOverlap": false,
        "labelPadding": 3, "labelFont": "Liberation Sans", "labelFontSize": 11, "labelColor": "#222",
        "title": "km/h", "titleAngle": 0, "titleX": -27, "titleY": 52.7, "titleAlign": "center", "titleBaseline": "alphabetic",
        "titleFont": "Liberation Mono", "titleFontSize": 14.5, "titleFontWeight": "bold", "titleColor": "#000"}}
  }
},
{
  "data": {"values": [{}]},
  "mark": {"type": "rule", "strokeOpacity": 0},
  "encoding": {
    "y": {"datum": 40, "type": "quantitative",
      "axis": {"orient": "left", "values": [0,2,4,6,8,10,12,14,16,18,20,22,24,26,28,30,32,34,36,38,40,42,44,46,48,50,52,54,56,58,60,62,64,66,68,70,72,74,76,78,80],
        "labels": false, "grid": false, "domain": false, "ticks": true, "tickSize": -5, "tickColor": "#9a9a9a", "tickWidth": 1, "title": null}}
  }
}
]
}
